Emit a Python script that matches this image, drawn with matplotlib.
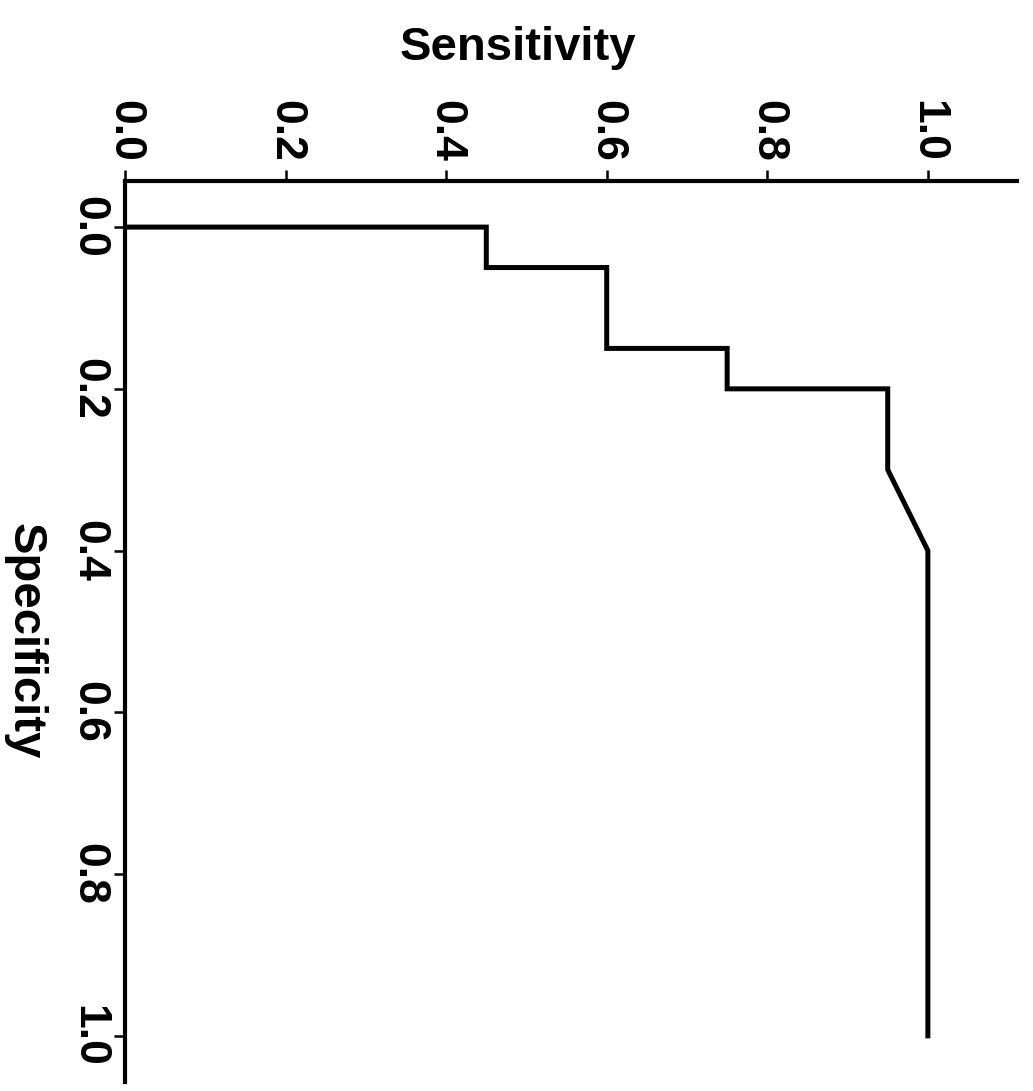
import matplotlib
matplotlib.use("Agg")
from matplotlib import pyplot as plt

# ROC curve points
specificity = [0.0, 0.0, 0.05, 0.05, 0.15, 0.15, 0.2, 0.2, 0.3, 0.4, 1.0]
sensitivity = [0.0, 0.45, 0.45, 0.6, 0.6, 0.75, 0.75, 0.95, 0.95, 1.0, 1.0]
tick_values = [0.0, 0.2, 0.4, 0.6, 0.8, 1.0]
tick_labels = ["0.0", "0.2", "0.4", "0.6", "0.8", "1.0"]

plt.rcParams["font.family"] = ["Liberation Sans", "DejaVu Sans"]

fig = plt.figure(figsize=(10.33, 10.91), dpi=100)
ax = fig.add_axes([0.121, 0.0083, 0.8635, 0.8258])

ax.plot(sensitivity, specificity, color="black", lw=3.6, solid_joinstyle="miter")

ax.set_xlim(0, 1.111)
ax.set_ylim(1.057, -0.057)

ax.spines["right"].set_visible(False)
ax.spines["bottom"].set_visible(False)
ax.spines["top"].set_linewidth(3.0)
ax.spines["left"].set_linewidth(3.0)

ax.xaxis.tick_top()
ax.set_xticks(tick_values, tick_labels)
ax.set_yticks(tick_values, tick_labels)
ax.tick_params(axis="x", direction="out", length=8, width=1.8, pad=6, labelsize=32)
ax.tick_params(axis="y", direction="out", length=8, width=1.8, pad=3, labelsize=32)
for lab in ax.get_xticklabels():
    lab.set_rotation(-90)
    lab.set_fontweight("bold")
    lab.set_ha("center")
    lab.set_va("bottom")
for lab in ax.get_yticklabels():
    lab.set_rotation(-90)
    lab.set_fontweight("bold")
    lab.set_ha("right")
    lab.set_va("center")

ax.xaxis.set_label_position("top")
ax.set_xlabel("Sensitivity", fontsize=34, fontweight="bold", va="baseline")
ax.xaxis.set_label_coords(0.44, 1.134)
ax.set_ylabel("Specificity", fontsize=34, fontweight="bold", rotation=-90,
              ha="center", va="center")
ax.yaxis.set_label_coords(-0.112, 0.489)

fig.savefig("out.png", dpi=100)
